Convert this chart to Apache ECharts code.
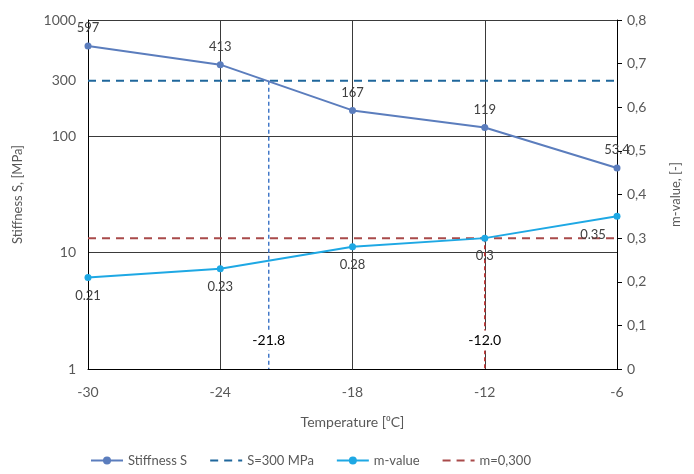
<!DOCTYPE html>
<html>
<head>
<meta charset="utf-8">
<script src="https://cdn.jsdelivr.net/npm/echarts@6/dist/echarts.min.js"></script>
<style>
  html, body { margin: 0; padding: 0; background: #fff; }
  #main { width: 694px; height: 474px; }
</style>
</head>
<body>
<div id="main"></div>
<script>
const temps = [-30, -24, -18, -12, -6];
const stiffness = [597, 413, 167, 119, 53.4];
const mValues = [0.21, 0.23, 0.28, 0.3, 0.35];
const sLimit = 300;
const mLimit = 0.3;
const tAtS = -21.8;   // temperature where S = 300
const tAtM = -12.0;   // temperature where m = 0.300
const leftTicks = [1, 10, 100, 300, 1000];

const font = 'Lato, "Liberation Sans", sans-serif';
const grey = '#595959';

// vertical guide: top point plain, bottom point carries the label
function guide (t, top, bottom) {
  return [
    { value: [t, top] },
    {
      value: [t, bottom],
      symbol: 'circle',
      symbolSize: 1,
      itemStyle: { color: 'transparent' },
      label: {
        show: true,
        position: 'top',
        distance: 18,
        formatter: t.toFixed(1),
        color: '#000',
        fontSize: 14,
        fontFamily: font,
        backgroundColor: '#fff',
        padding: [3, 2]
      }
    }
  ];
}

// dashed series: line only in the legend, no dot
const noDot = { color: 'transparent', borderWidth: 0 };

let option = {
  animation: false,
  textStyle: { fontFamily: font },
  grid: { left: 88, right: 77, top: 20, bottom: 105 },
  legend: {
    bottom: 2,
    left: 85,
    itemGap: 22,
    itemWidth: 32,
    itemHeight: 10,
    textStyle: { color: grey, fontSize: 13, fontFamily: font },
    data: [
      'Stiffness S',
      { name: 'S=300 MPa', itemStyle: noDot },
      'm-value',
      { name: 'm=0,300', itemStyle: noDot }
    ]
  },
  xAxis: {
    type: 'value',
    min: -30,
    max: -6,
    interval: 6,
    name: 'Temperature [\u2070C]',
    nameLocation: 'middle',
    nameGap: 46,
    nameTextStyle: { color: grey, fontSize: 14 },
    axisLine: { lineStyle: { color: '#000', width: 1 } },
    axisTick: { show: false },
    axisLabel: { color: grey, fontSize: 14, margin: 16 },
    splitLine: { show: true, lineStyle: { color: '#3a3a3a', width: 1 } }
  },
  yAxis: [
    {
      type: 'log',
      logBase: 10,
      min: 1,
      max: 1000,
      name: 'Stiffness S, [MPa]',
      nameLocation: 'middle',
      nameRotate: 90,
      nameGap: 64,
      nameTextStyle: { color: grey, fontSize: 13 },
      axisLine: { show: true, lineStyle: { color: '#000' } },
      axisTick: { show: false },
      axisLabel: {
        color: grey, fontSize: 14, margin: 12, customValues: leftTicks,
        formatter: v => String(Math.round(v))
      },
      splitLine: { show: true, lineStyle: { color: '#3a3a3a', width: 1 } }
    },
    {
      type: 'value',
      position: 'right',
      min: 0,
      max: 0.8,
      interval: 0.1,
      name: 'm-value, [-]',
      nameLocation: 'middle',
      nameRotate: 90,
      nameGap: 52,
      nameTextStyle: { color: grey, fontSize: 13 },
      axisLine: { show: true, lineStyle: { color: '#000' } },
      axisTick: { show: true, inside: false, length: 5, lineStyle: { color: '#000' } },
      axisLabel: {
        color: grey, fontSize: 14, margin: 10,
        formatter: v => v === 0 ? '0' : v.toFixed(1).replace('.', ',')
      },
      splitLine: { show: false }
    }
  ],
  series: [
    {
      name: 'S=300 MPa',
      type: 'line',
      yAxisIndex: 0,
      symbol: 'none',
      data: [[temps[0], sLimit], [temps[temps.length - 1], sLimit]],
      lineStyle: { color: '#1f679c', width: 2, type: [8, 6] },
      itemStyle: { color: '#1f679c' },
      z: 3
    },
    {
      name: 'm=0,300',
      type: 'line',
      yAxisIndex: 1,
      symbol: 'none',
      data: [[temps[0], mLimit], [temps[temps.length - 1], mLimit]],
      lineStyle: { color: '#a94a4a', width: 2, type: [8, 6] },
      itemStyle: { color: '#a94a4a' },
      z: 3
    },
    {
      name: 'guideS',
      type: 'line',
      yAxisIndex: 0,
      symbol: 'none',
      data: guide(tAtS, sLimit, 1),
      lineStyle: { color: '#4278c8', width: 1.5, type: [4, 3] },
      z: 3
    },
    {
      name: 'guideM',
      type: 'line',
      yAxisIndex: 1,
      symbol: 'none',
      data: guide(tAtM, mLimit, 0),
      lineStyle: { color: '#c83a3a', width: 1.5, type: [4, 3] },
      z: 3
    },
    {
      name: 'Stiffness S',
      type: 'line',
      yAxisIndex: 0,
      symbol: 'circle',
      symbolSize: 7,
      data: temps.map((t, i) => [t, stiffness[i]]),
      lineStyle: { color: '#5b7dbd', width: 2 },
      itemStyle: { color: '#5b7dbd' },
      label: { show: true, position: 'top', distance: 8, color: '#404040', fontSize: 13 },
      z: 5
    },
    {
      name: 'm-value',
      type: 'line',
      yAxisIndex: 1,
      symbol: 'circle',
      symbolSize: 7,
      data: temps.map((t, i) => {
        let item = { value: [t, mValues[i]] };
        if (i === temps.length - 1) item.label = { offset: [-24, 0] };
        return item;
      }),
      lineStyle: { color: '#1ea8e4', width: 2 },
      itemStyle: { color: '#1ea8e4' },
      label: {
        show: true, position: 'bottom', distance: 8, color: '#404040', fontSize: 13,
        formatter: p => p.value[1]
      },
      z: 5
    }
  ]
};

let myChart = echarts.init(document.getElementById('main'));
myChart.setOption(option);
</script>
</body>
</html>
